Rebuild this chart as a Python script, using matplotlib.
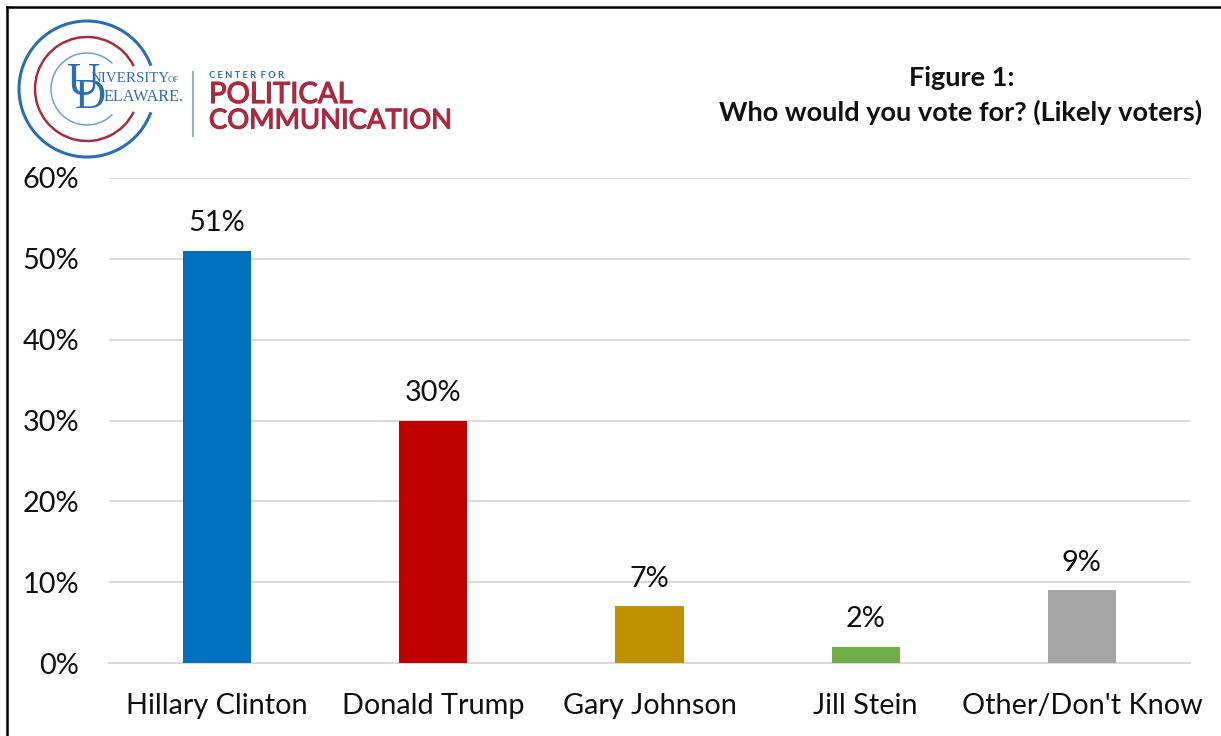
import matplotlib
matplotlib.use("Agg")
from matplotlib import pyplot as plt
from matplotlib.patches import Arc
import matplotlib.patheffects as pe

plt.rcParams['font.family'] = ['Lato', 'DejaVu Sans']

names = ["Hillary Clinton", "Donald Trump", "Gary Johnson", "Jill Stein", "Other/Don't Know"]
votes = [51, 30, 7, 2, 9]
colors = ["#0070C0", "#C00000", "#BF9000", "#70AD47", "#A5A5A5"]
yticks = [0, 10, 20, 30, 40, 50, 60]

W, H = 1221, 736
fig = plt.figure(figsize=(W / 100, H / 100), dpi=100, facecolor="white")

# chart area, placed by pixel position from the reference
ax = fig.add_axes([109 / W, 1 - 663 / H, (1190 - 109) / W, (663 - 178) / H])
ax.bar(range(len(names)), votes, width=0.315, color=colors, zorder=3)
ax.set_xlim(-0.5, 4.5)
ax.set_ylim(0, 60)
ax.set_yticks(yticks)
ax.set_yticklabels([str(t) + "%" for t in yticks], fontsize=20.8, color="#111111")
ax.set_xticks(range(len(names)))
ax.set_xticklabels(names, fontsize=20.8, color="#111111")
ax.tick_params(axis="both", length=0)
ax.tick_params(axis="x", pad=21.5)
ax.tick_params(axis="y", pad=21.5)
ax.grid(axis="y", color="#D9D9D9", linewidth=1.4, zorder=0)
for s in ["top", "right", "left"]:
    ax.spines[s].set_visible(False)
ax.spines["bottom"].set_color("#D9D9D9")
ax.spines["bottom"].set_linewidth(1.4)
for i, v in enumerate(votes):
    ax.annotate(str(v) + "%", (i, v), xytext=(0, 10.5), textcoords="offset points",
                ha="center", va="bottom", fontsize=20.8, color="#111111")

# overlay in pixel coordinates for border, title and logo
ov = fig.add_axes([0, 0, 1, 1], facecolor="none")
ov.set_xlim(0, W)
ov.set_ylim(H, 0)
ov.axis("off")

ov.plot([7, 7], [H, 7], color="black", lw=1.8, solid_capstyle="projecting")
ov.plot([7, W], [7, 7], color="black", lw=1.8, solid_capstyle="projecting")

ov.text(962, 78, "Figure 1:", ha="center", va="center", fontsize=19.5, fontweight="bold", color="#111111")
ov.text(1202, 112, "Who would you vote for? (Likely voters)", ha="right", va="center",
        fontsize=19.5, fontweight="bold", color="#111111")

blue = "#2A6DB0"
red = "#A92B3F"
# y axis is flipped here so the arc angles run clockwise
for r, gap, col, lw in [(68, 20, blue, 2.2), (52, 26, red, 1.8), (36, 45, "#6FA0CF", 1.1)]:
    ov.add_patch(Arc((87, 89), 2 * r, 2 * r, theta1=gap, theta2=360 - gap, color=col, lw=lw))

ov.text(84, 84, "U", family="Liberation Serif", fontsize=33, color=blue, ha="center", va="center")
ov.text(90, 98, "D", family="Liberation Serif", fontsize=31, color=blue, ha="center", va="center")
ov.text(91, 79, "NIVERSITY", family="Liberation Serif", fontsize=10.8, color=blue, ha="left", va="center")
ov.text(168, 80, "OF", family="Liberation Serif", fontsize=6.5, color=blue, ha="left", va="center")
ov.text(103, 97, "ELAWARE.", family="Liberation Serif", fontsize=11.6, color=blue, ha="left", va="center")

ov.plot([193, 193], [72, 136], color="#8FB3D3", lw=1.5)
ov.text(209, 76, "C E N T E R  F O R", fontsize=6.8, fontweight="bold", color=blue, ha="left", va="center")
heavy = [pe.withStroke(linewidth=0.9, foreground=red)]
ov.text(209, 95, "POLITICAL", fontsize=21, color=red, ha="left", va="center", path_effects=heavy)
ov.text(209, 121, "COMMUNICATION", fontsize=19.7, color=red, ha="left", va="center", path_effects=heavy)

fig.savefig("out.png", dpi=100)
